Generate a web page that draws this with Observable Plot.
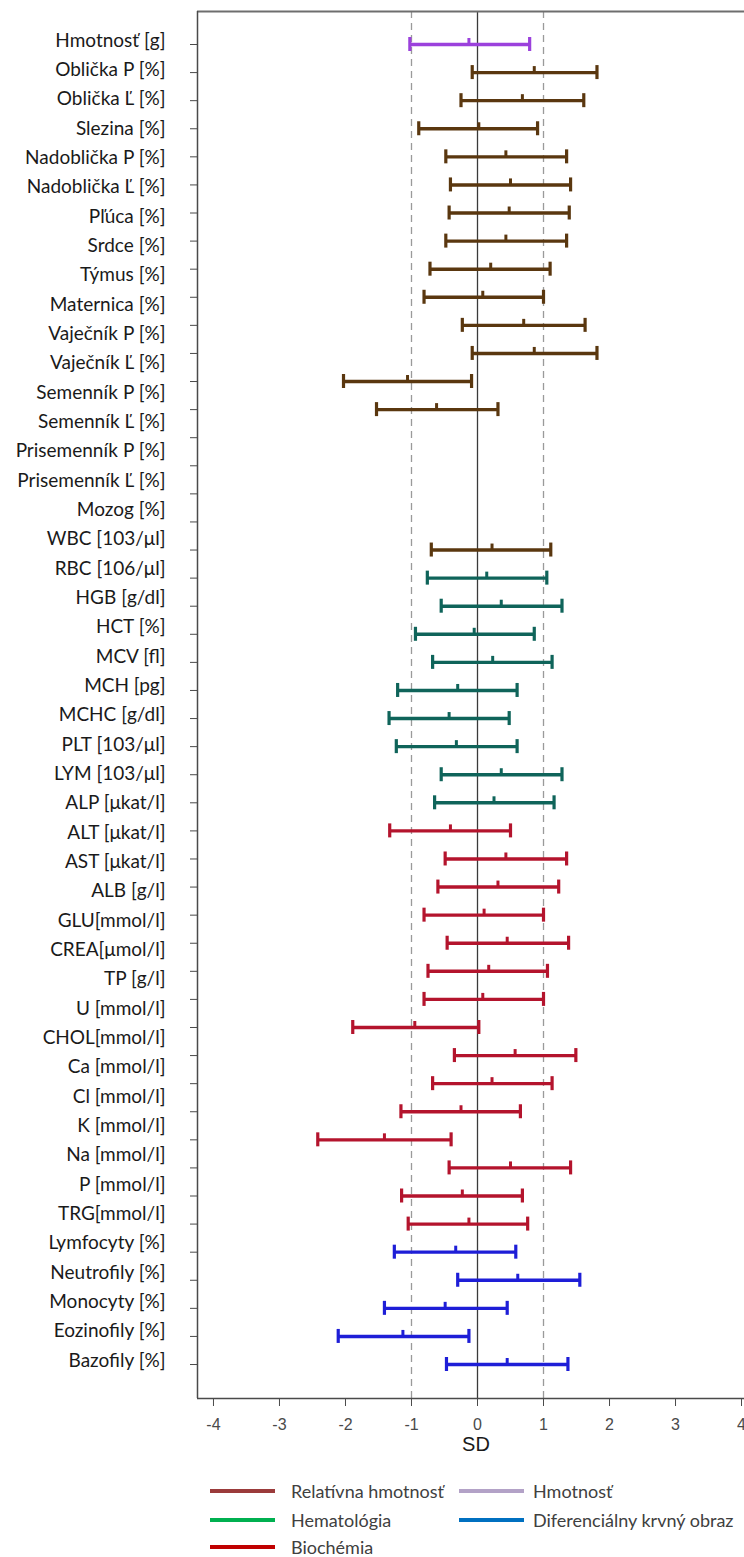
<!DOCTYPE html>
<html>
<head>
<meta charset="utf-8">
<script src="https://cdn.jsdelivr.net/npm/d3@7"></script>
<script src="https://cdn.jsdelivr.net/npm/@observablehq/plot@0.6"></script>
<style>
  html, body { margin: 0; padding: 0; background: #fff; }
  #chart { width: 744px; }
  #legend { position: relative; width: 744px; height: 87px; font-family: Lato, "Open Sans", sans-serif; font-size: 18px; color: #404040; }
  .swatch { position: absolute; width: 65px; height: 4px; }
  .ltext { position: absolute; height: 22px; line-height: 22px; white-space: nowrap; }
</style>
</head>
<body>
<div id="chart"></div>
<div id="legend"></div>
<script>
// Row labels as printed beside the axis (46 text lines)
const labels = [
  "Hmotnosť [g]", "Oblička P [%]", "Oblička Ľ [%]", "Slezina [%]", "Nadoblička P [%]",
  "Nadoblička Ľ [%]", "Pľúca [%]", "Srdce [%]", "Týmus [%]", "Maternica [%]",
  "Vaječník P [%]", "Vaječník Ľ [%]", "Semenník P [%]", "Semenník Ľ [%]",
  "Prisemenník P [%]", "Prisemenník Ľ [%]", "Mozog [%]",
  "WBC [103/μl]", "RBC [106/μl]", "HGB [g/dl]", "HCT [%]", "MCV [fl]", "MCH [pg]",
  "MCHC [g/dl]", "PLT [103/μl]", "LYM [103/μl]",
  "ALP [μkat/l]", "ALT [μkat/l]", "AST [μkat/l]", "ALB [g/l]", "GLU[mmol/l]",
  "CREA[μmol/l]", "TP [g/l]", "U [mmol/l]", "CHOL[mmol/l]", "Ca [mmol/l]",
  "Cl [mmol/l]", "K [mmol/l]", "Na [mmol/l]", "P [mmol/l]", "TRG[mmol/l]",
  "Lymfocyty [%]", "Neutrofily [%]", "Monocyty [%]", "Eozinofily [%]", "Bazofily [%]"
];

// Error-bar rows (48 axis ticks); null = empty row
const rowGroup = [
  "H",
  "R","R","R","R","R","R","R","R","R","R","R","R","R",
  null,null,null,null,
  "R",
  "E","E","E","E","E","E","E","E","E",
  "B","B","B","B","B","B","B","B","B","B","B","B","B","B","B",
  "D","D","D","D","D"
];
const rowLow = [
  -1.025,
  -0.08,-0.25,-0.89,-0.48,-0.41,-0.43,-0.48,-0.72,-0.81,-0.23,-0.08,-2.03,-1.53,
  null,null,null,null,
  -0.70,
  -0.76,-0.55,-0.94,-0.68,-1.21,-1.34,-1.23,-0.55,-0.65,
  -1.33,-0.49,-0.60,-0.81,-0.46,-0.75,-0.81,-1.89,-0.35,-0.68,-1.16,-2.42,-0.43,-1.15,-1.05,
  -1.26,-0.30,-1.41,-2.11,-0.47
];
const rowMean = [
  -0.13,
  0.86,0.68,0.02,0.43,0.50,0.48,0.43,0.20,0.08,0.70,0.86,-1.06,-0.62,
  null,null,null,null,
  0.22,
  0.14,0.36,-0.05,0.23,-0.30,-0.43,-0.32,0.36,0.25,
  -0.41,0.43,0.31,0.10,0.45,0.17,0.08,-0.95,0.57,0.22,-0.25,-1.41,0.50,-0.23,-0.13,
  -0.33,0.61,-0.49,-1.13,0.45
];
const rowHigh = [
  0.79,
  1.81,1.61,0.91,1.35,1.41,1.39,1.35,1.10,1.00,1.63,1.81,-0.09,0.31,
  null,null,null,null,
  1.11,
  1.05,1.28,0.86,1.13,0.60,0.48,0.60,1.28,1.16,
  0.50,1.35,1.23,1.00,1.38,1.06,1.00,0.02,1.49,1.13,0.65,-0.40,1.41,0.68,0.76,
  0.58,1.55,0.45,-0.13,1.37
];

const groupIds = ["H", "R", "E", "B", "D"];
const groupColors = ["#9B41DC", "#5A370F", "#0F645A", "#B4142D", "#1E1ED7"];

const xTicks = [-4, -3, -2, -1, 0, 1, 2, 3, 4];
const refDashed = [-1, 1];
const refSolid = [0];

const legendLabels = ["Relatívna hmotnosť", "Hmotnosť", "Hematológia", "Diferenciálny krvný obraz", "Biochémia"];
const legendColors = ["#9B3B3B", "#B3A2C7", "#00B050", "#0070C0", "#C00000"];

// build table
const rows = rowGroup.map((g, i) => ({
  row: i + 1, group: g, lo: rowLow[i], mean: rowMean[i], hi: rowHigh[i]
})).filter(d => d.group !== null);
const rowIds = rowGroup.map((g, i) => i + 1);
const nRows = rowGroup.length;

const xDomain = [-4.242, 4.045];
const yDomain = [-0.175, 49.21];

const chart = Plot.plot({
  width: 744,
  height: 1470,
  marginLeft: 197,
  marginRight: 0,
  marginTop: 11,
  marginBottom: 72,
  style: { background: "#fff", overflow: "visible" },
  x: { domain: xDomain },
  y: { domain: yDomain, reverse: true },
  color: { domain: groupIds, range: groupColors },
  marks: [
    Plot.ruleX(refDashed, { x: d => d, stroke: "#9a9a9a", strokeWidth: 1.3, strokeDasharray: "7,5" }),
    Plot.ruleX(refSolid, { x: d => d, stroke: "#3a3a3a", strokeWidth: 1.3 }),
    Plot.ruleY([yDomain[0]], { y: d => d, stroke: "#6e6e6e", strokeWidth: 2 }),
    Plot.ruleY([yDomain[1]], { y: d => d, stroke: "#4a4a4a", strokeWidth: 1.5 }),
    Plot.ruleX([xDomain[0]], { x: d => d, stroke: "#4a4a4a", strokeWidth: 1.5 }),
    Plot.axisX({ ticks: xTicks, tickSize: 8, tickPadding: 12, tickFormat: d => String(d),
      fontSize: 16, fontFamily: "Liberation Sans, Arial, sans-serif", color: "#4a4a4a",
      stroke: "#4a4a4a", label: null }),
    Plot.axisY({ ticks: rowIds, tickSize: 7, tickFormat: () => "", label: null, stroke: "#4a4a4a" }),
    Plot.ruleY(rows, { y: "row", x1: "lo", x2: "hi", stroke: "group", strokeWidth: 3.4 }),
    Plot.ruleX(rows, { x: "lo", y1: "row", y2: "row", insetTop: -7, insetBottom: -7, stroke: "group", strokeWidth: 3.2 }),
    Plot.ruleX(rows, { x: "hi", y1: "row", y2: "row", insetTop: -7, insetBottom: -7, stroke: "group", strokeWidth: 3.2 }),
    Plot.ruleX(rows, { x: "mean", y1: "row", y2: "row", insetTop: -6, insetBottom: 0, stroke: "group", strokeWidth: 3 }),
    Plot.text(labels, { y: (d, i) => 1 + i * (nRows - 1) / (labels.length - 1), text: d => d,
      frameAnchor: "left", textAnchor: "end", dx: -32, dy: -4,
      fontSize: 19, fontFamily: "Lato, sans-serif", fill: "#1a1a1a" }),
    Plot.text(["SD"], { text: d => d, frameAnchor: "bottom", dx: 5, dy: 52,
      fontSize: 20, fontFamily: "Liberation Sans, Arial, sans-serif", fill: "#1a1a1a" })
  ]
});
document.getElementById("chart").appendChild(chart);

// legend: [swatch left, text left, row top]
const legendPos = [[210, 291, 10], [459, 533, 10], [210, 291, 39], [459, 533, 39], [210, 291, 66]];
const lg = document.getElementById("legend");
legendLabels.forEach((t, i) => {
  const [sx, tx0, ty] = legendPos[i];
  const sw = document.createElement("div");
  sw.className = "swatch";
  sw.style.left = sx + "px";
  sw.style.top = (ty + 9) + "px";
  sw.style.background = legendColors[i];
  const tx = document.createElement("div");
  tx.className = "ltext";
  tx.style.left = tx0 + "px";
  tx.style.top = ty + "px";
  tx.textContent = t;
  lg.appendChild(sw); lg.appendChild(tx);
});
</script>
</body>
</html>
